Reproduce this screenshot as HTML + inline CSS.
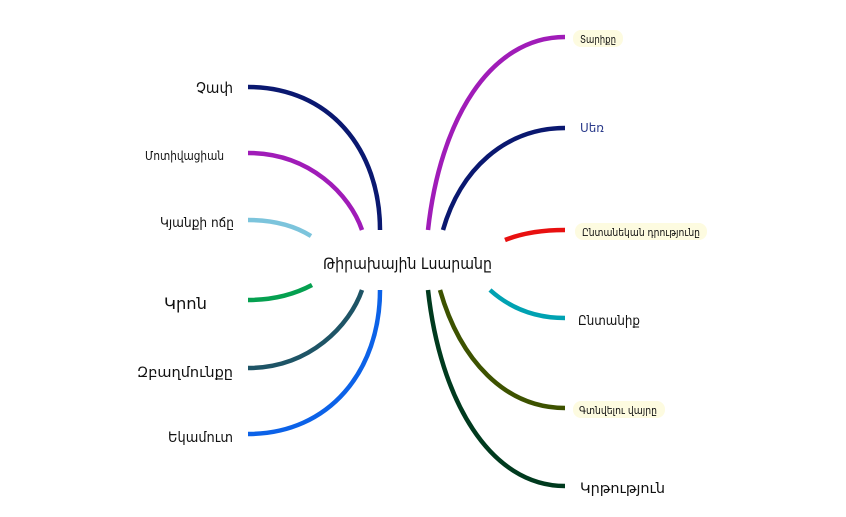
<!DOCTYPE html>
<html><head><meta charset="utf-8"><style>
body{margin:0;background:#fff}
svg text{font-family:"DejaVu Sans","Liberation Sans",sans-serif;fill:#111}
</style></head><body>
<svg width="846" height="512" viewBox="0 0 846 512" xmlns="http://www.w3.org/2000/svg">
<g fill="none" stroke-width="4.5" stroke-linecap="butt">
<path d="M248 87 C330 87 380 150 380 230" stroke="#0a1870"/>
<path d="M248 153 C310 153 350 195 362 230" stroke="#a01cb8"/>
<path d="M248 220 C275 220 295 226 311 236" stroke="#7cc4dc"/>
<path d="M248 300 C275 300 295 294 312 285" stroke="#05a050"/>
<path d="M248 368 C310 368 350 325 362 290" stroke="#1e5466"/>
<path d="M248 434 C330 434 380 370 380 290" stroke="#0c62e8"/>
<path d="M428 230 C440 120 490 37 565 37" stroke="#a01cb8"/>
<path d="M443 230 C460 170 505 128 565 128" stroke="#0a1870"/>
<path d="M505 240 C525 232 545 230 565 230" stroke="#e81010"/>
<path d="M490 290 C510 308 535 318 565 318" stroke="#00a2b2"/>
<path d="M440 290 C460 360 505 408 565 408" stroke="#3d5200"/>
<path d="M428 290 C440 400 490 486 565 486" stroke="#003a1e"/>
</g>
<text x="196" y="93" font-size="15" textLength="37" lengthAdjust="spacingAndGlyphs">Չափ</text>
<text x="145" y="160" font-size="12" textLength="79" lengthAdjust="spacingAndGlyphs">Մոտիվացիան</text>
<text x="160" y="227" font-size="13" textLength="74" lengthAdjust="spacingAndGlyphs">Կյանքի ոճը</text>
<text x="164" y="309" font-size="16" textLength="43" lengthAdjust="spacingAndGlyphs">Կրոն</text>
<text x="137" y="377" font-size="14" textLength="96" lengthAdjust="spacingAndGlyphs">Զբաղմունքը</text>
<text x="168" y="442" font-size="14" textLength="65" lengthAdjust="spacingAndGlyphs">Եկամուտ</text>
<text x="323" y="269" font-size="16" textLength="169" lengthAdjust="spacingAndGlyphs">Թիրախային Լսարանը</text>
<rect x="573" y="30" width="50" height="17" rx="8" fill="#fdfbe0"/>
<text x="580" y="43" font-size="11" textLength="36" lengthAdjust="spacingAndGlyphs">Տարիքը</text>
<text x="580" y="132" font-size="12" textLength="24" lengthAdjust="spacingAndGlyphs" style="fill:#2a3a8a">Սեռ</text>
<rect x="575" y="223" width="132" height="17" rx="8" fill="#fdfbe0"/>
<text x="582" y="236" font-size="11" textLength="118" lengthAdjust="spacingAndGlyphs">Ընտանեկան դրությունը</text>
<text x="578" y="325" font-size="13" textLength="62" lengthAdjust="spacingAndGlyphs">Ընտանիք</text>
<rect x="573" y="401" width="92" height="17" rx="8" fill="#fdfbe0"/>
<text x="579" y="414" font-size="11" textLength="78" lengthAdjust="spacingAndGlyphs">Գտնվելու վայրը</text>
<text x="580" y="493" font-size="14" textLength="85" lengthAdjust="spacingAndGlyphs">Կրթություն</text>
</svg>
</body></html>
